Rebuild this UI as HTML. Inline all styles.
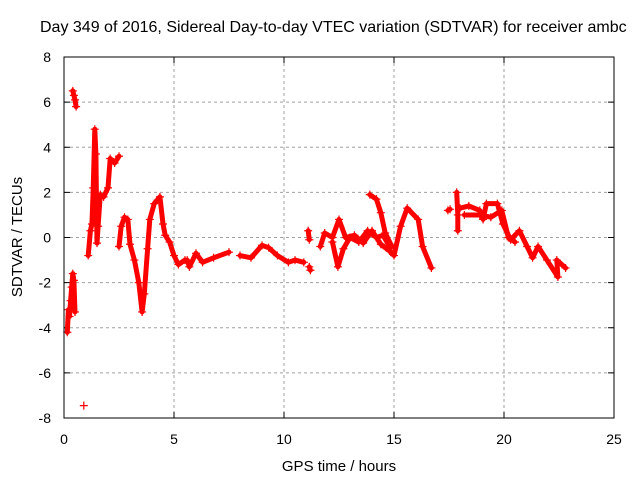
<!DOCTYPE html>
<html><head><meta charset="utf-8"><style>
body{margin:0;background:#fff;}
svg{display:block;font-family:"Liberation Sans",sans-serif;}
</style></head><body>
<svg id="c" width="640" height="480" xmlns="http://www.w3.org/2000/svg">
<rect width="640" height="480" fill="#fff"/>
<text x="40" y="32" font-size="16" fill="#000">Day 349 of 2016, Sidereal Day-to-day VTEC variation (SDTVAR) for receiver ambc</text>
<text transform="translate(22,237) rotate(-90)" text-anchor="middle" font-size="15">SDTVAR / TECUs</text>
<text x="339" y="471" text-anchor="middle" font-size="15">GPS time / hours</text>
<g id="grid"></g>
<g id="ticks"></g>
<g id="marks"></g>
<rect x="64" y="57" width="550" height="361" fill="none" stroke="#000" stroke-width="1"/>
</svg>
<script>
const xTicks=[0,5,10,15,20,25];
const yTicks=[-8,-6,-4,-2,0,2,4,6,8];
const segHigh=[[0.4,6.5],[0.45,6.3],[0.5,6.1],[0.55,5.8]];
const segA=[[0.15,-4.2],[0.2,-3.2],[0.25,-3.5],[0.3,-2.8],[0.35,-2.2],[0.4,-1.6],[0.45,-1.9],[0.5,-3.3]];
const segOut=[[0.9,-7.45]];
const segB=[[1.1,-0.8],[1.2,0.3],[1.27,0.6],[1.33,2.2],[1.4,4.8],[1.45,3.7],[1.5,-0.25],[1.55,0.5],[1.65,1.9],[1.8,1.8],[2.0,2.2],[2.1,3.5],[2.3,3.3],[2.5,3.6]];
const segC=[[2.5,-0.4],[2.6,0.5],[2.75,0.9],[2.9,0.8],[3.0,-0.3],[3.2,-1.0],[3.4,-2.0],[3.55,-3.3],[3.65,-2.5],[3.8,-0.5],[3.9,0.8],[4.1,1.5],[4.36,1.8],[4.5,0.6],[4.6,0.1],[4.8,-0.2],[5.0,-0.8],[5.2,-1.2],[5.5,-1.0]];
const segD=[[5.6,-1.0],[5.7,-1.3],[6.0,-0.7],[6.3,-1.1],[6.8,-0.9],[7.5,-0.65]];
const segE=[[8.0,-0.8],[8.5,-0.9],[9.0,-0.35],[9.3,-0.45],[9.7,-0.8],[10.2,-1.1],[10.5,-1.0],[10.9,-1.1]];
const segF=[[11.1,0.3],[11.15,-0.1]];
const segG=[[11.15,-1.3],[11.2,-1.45]];
const segX=[[11.65,-0.4],[11.85,0.2],[12.2,0.0],[12.5,0.8],[12.8,0.0],[13.2,0.1],[13.6,-0.25],[14.0,0.3],[14.4,-0.3],[14.8,-0.6],[15.0,-0.8],[15.3,0.5],[15.6,1.3],[16.1,0.8],[16.3,-0.4],[16.7,-1.35]];
const segY=[[12.2,-0.2],[12.45,-1.3],[12.7,-0.5],[13.0,0.0],[13.4,-0.2],[13.8,0.3],[14.2,0.0],[14.5,0.1],[14.8,-0.4]];
const segZ=[[13.9,1.9],[14.2,1.7],[14.4,1.1],[14.6,0.2],[14.9,-0.4]];
const segH=[[17.45,1.2],[17.55,1.25]];
const segI=[[17.85,2.0],[17.9,1.0],[17.9,0.3]];
const segJ=[[18.0,1.3],[18.4,1.4],[18.9,1.2],[19.05,0.8],[19.2,1.5],[19.7,1.5],[19.95,0.6],[20.3,-0.1],[20.7,0.3],[21.05,-0.4],[21.3,-0.9],[21.55,-0.4],[21.95,-1.0],[22.45,-1.75],[22.4,-1.0],[22.8,-1.35]];
const segJ2=[[18.2,1.0],[18.9,1.0],[19.4,0.9],[19.9,1.2],[20.2,0.0],[20.5,-0.2]];
const segments=[segHigh,segA,segOut,segB,segC,segD,segE,segF,segG,segX,segY,segZ,segH,segI,segJ,segJ2];
const X0=64,X1=614,Y0=418,Y1=57;
const xs=v=>X0+(v-0)/25*(X1-X0);
const ys=v=>Y0-(v+8)/16*(Y0-Y1);
const NS="http://www.w3.org/2000/svg";
function mk(tag,parent,attrs){const e=document.createElementNS(NS,tag);for(const k in attrs)e.setAttribute(k,attrs[k]);parent.appendChild(e);return e;}
const grid=document.getElementById('grid'),ticks=document.getElementById('ticks'),marks=document.getElementById('marks');
xTicks.forEach(t=>{const x=xs(t);
 if(t>0&&t<25){const g=mk('line',grid,{x1:x,x2:x,y1:Y1,y2:Y0,stroke:'#a0a0a0','stroke-dasharray':'3,3'});
 
 }
 mk('line',ticks,{x1:x,x2:x,y1:Y0,y2:Y0-6,stroke:'#000'});
 mk('line',ticks,{x1:x,x2:x,y1:Y1,y2:Y1+6,stroke:'#000'});
 const l=mk('text',ticks,{x:x,y:444,'text-anchor':'middle','font-size':'14'});l.textContent=t;
 
 });
yTicks.forEach(t=>{const y=ys(t);
 if(t>-8&&t<8){const g=mk('line',grid,{x1:X0,x2:X1,y1:y,y2:y,stroke:'#a0a0a0','stroke-dasharray':'3,3'});
 
 }
 mk('line',ticks,{x1:X0,x2:X0+6,y1:y,y2:y,stroke:'#000'});
 mk('line',ticks,{x1:X1,x2:X1-6,y1:y,y2:y,stroke:'#000'});
 const l=mk('text',ticks,{x:51,y:y+5,'text-anchor':'end','font-size':'14'});l.textContent=t;
 
 });
segments.forEach(s=>{
 if(s.length>1){const p=mk('polyline',marks,{points:s.map(d=>xs(d[0])+','+ys(d[1])).join(' '),fill:'none',stroke:'#f00','stroke-width':'5','stroke-linejoin':'round','stroke-linecap':'round'});
 
 }
 s.forEach(d=>{const x=xs(d[0]),y=ys(d[1]);
  const m=mk('path',marks,{d:`M${x-4},${y}H${x+4}M${x},${y-4}V${y+4}`,stroke:'#f00','stroke-width':'1.2'});
  
  });
});
</script>
</body></html>
